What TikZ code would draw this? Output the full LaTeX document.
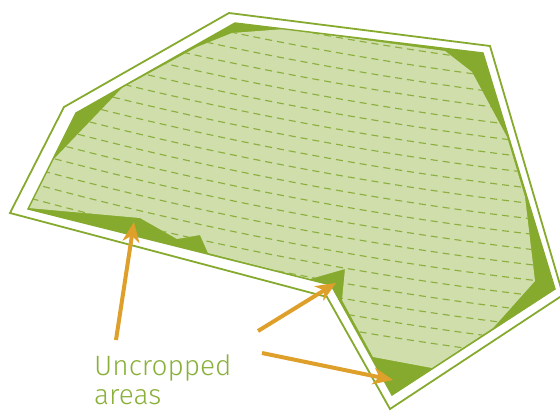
\documentclass[tikz,border=0pt]{standalone}
\usepackage{fontspec}
\setmainfont{Fira Sans}[UprightFont=* Light]
\usetikzlibrary{arrows.meta}
\definecolor{darkg}{RGB}{133,170,45}
\definecolor{lightg}{RGB}{207,222,171}
\definecolor{dashg}{RGB}{140,174,60}
\definecolor{orangea}{RGB}{222,160,42}
\definecolor{textg}{RGB}{138,176,58}
\tikzset{
  outerline/.style={draw=darkg, line width=1.8pt, line join=miter},
  fieldline/.style={draw=darkg, line width=1.4pt, line join=miter},
  dashline/.style={draw=dashg, line width=1.1pt, dash pattern=on 7pt off 5pt},
  arr/.style={draw=orangea, line width=4pt, -{Stealth[length=20pt,width=17pt,inset=6pt]}},
  lbl/.style={text=textg, font=\fontsize{28}{30}\selectfont, anchor=base west, inner sep=0pt}
}
\begin{document}
\begin{tikzpicture}[x=1pt,y=-1pt]
\useasboundingbox (0,0) rectangle (560,410);
% outer boundary
\draw[outerline] (10,213) -- (64,107) -- (229,13) -- (490,46) -- (563,295) -- (390,409) -- (327,297) -- cycle;
% field (uncropped areas are what remains dark)
\fill[darkg] (28,209) -- (76,113) -- (235,23) -- (483,53) -- (555,289) -- (392,395) -- (331,285) -- cycle;
\def\croppath{(28,208) -- (53,160) -- (122,88) -- (197,47) -- (232,33) -- (285,29) -- (445,51) -- (472,72) -- (507,137) -- (525,197) -- (535,281) -- (493,328) -- (432,368) -- (373,357) -- (342,300) -- (345,269) -- (310,279) -- (208,253) -- (200,235) -- (177,239) -- (140,218) -- cycle}
\fill[lightg] \croppath;
\begin{scope}
  \clip \croppath;
  \foreach \k in {-1,...,18}
    \draw[dashline] plot[domain=20:560, samples=50] (\x,{42+15.3*\k+0.194*(\x-280)-0.00016*(\x-280)*(\x-280)});
\end{scope}
\draw[fieldline] (28,209) -- (76,113) -- (235,23) -- (483,53) -- (555,289) -- (392,395) -- (331,285) -- cycle;
% arrows
\coordinate (t1) at (116,340); \coordinate (h1) at (134,222);
\coordinate (t2) at (258,331); \coordinate (h2) at (336,283);
\coordinate (t3) at (262,353); \coordinate (h3) at (393,380);
\draw[arr] (t1) -- (h1);
\draw[arr] (t2) -- (h2);
\draw[arr] (t3) -- (h3);
% label
\node[lbl] (l1) at (94,375) {Uncropped};
\node[lbl] (l2) at (94,404) {areas};
\end{tikzpicture}
\end{document}
